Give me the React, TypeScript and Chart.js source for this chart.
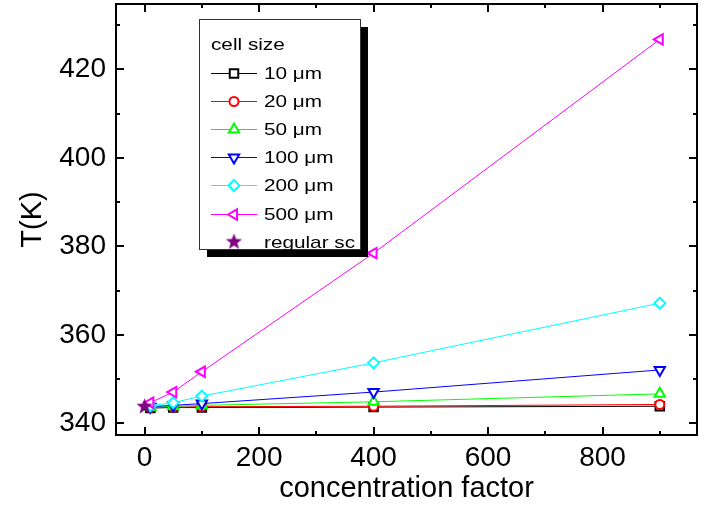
import React, { useEffect, useRef } from 'react';
import { Chart, registerables } from 'chart.js';
import { drawPoint } from 'chart.js/helpers';

Chart.register(...registerables);

// ---- data ----
const concentration = [10, 50, 100, 400, 900];
const t10um = [343.5, 343.6, 343.6, 343.7, 343.9];
const t20um = [343.6, 343.7, 343.8, 343.9, 344.3];
const t50um = [343.7, 343.9, 344.1, 344.9, 346.7];
const t100um = [343.8, 344.1, 344.5, 347.1, 352.1];
const t200um = [344.0, 344.7, 346.2, 353.7, 367.2];
const t500um = [344.7, 347.1, 351.7, 378.5, 426.8];
const regularX = [0];
const regularT = [343.8];

const seriesLabels = ['10 μm', '20 μm', '50 μm', '100 μm', '200 μm', '500 μm', 'regular sc'];
const legendTitle = 'cell size';
const xTitle = 'concentration factor';
const yTitle = 'T(K)';
const xTicks = [0, 200, 400, 600, 800];
const xMinorTicks = [100, 300, 500, 700, 900];
const yTicks = [340, 360, 380, 400, 420];
const yMinorTicks = [350, 370, 390, 410, 430];

const FONT = "'Liberation Sans', Arial, sans-serif";

function makeStar(color: string, outer: number, inner: number): HTMLCanvasElement {
  const size = Math.ceil(outer * 2 + 2);
  const c = document.createElement('canvas');
  c.width = size;
  c.height = size;
  const g = c.getContext('2d')!;
  const cx = size / 2, cy = size / 2;
  g.beginPath();
  for (let i = 0; i < 10; i++) {
    const r = i % 2 === 0 ? outer : inner;
    const a = -Math.PI / 2 + (i * Math.PI) / 5;
    const px = cx + r * Math.cos(a);
    const py = cy + r * Math.sin(a);
    if (i === 0) g.moveTo(px, py);
    else g.lineTo(px, py);
  }
  g.closePath();
  g.fillStyle = color;
  g.fill();
  return c;
}

export default function App() {
  const ref = useRef<HTMLCanvasElement | null>(null);

  useEffect(() => {
    if (!ref.current) return;
    const star = makeStar('#800080', 8.5, 3.6);

    const styles = [
      { color: '#000000', pointStyle: 'rect', rotation: 0, radius: 6 },
      { color: '#ff0000', pointStyle: 'circle', rotation: 0, radius: 4.5 },
      { color: '#00ff00', pointStyle: 'triangle', rotation: 0, radius: 6 },
      { color: '#0000ff', pointStyle: 'triangle', rotation: 180, radius: 6 },
      { color: '#00ffff', pointStyle: 'rectRot', rotation: 0, radius: 5.5 },
      { color: '#ff00ff', pointStyle: 'triangle', rotation: 270, radius: 6 },
    ];
    const seriesValues = [t10um, t20um, t50um, t100um, t200um, t500um];

    const datasets: any[] = seriesValues.map((vals, i) => ({
      label: seriesLabels[i],
      data: concentration.map((c, j) => ({ x: c, y: vals[j] })),
      borderColor: styles[i].color,
      backgroundColor: '#ffffff',
      borderWidth: 1,
      pointStyle: styles[i].pointStyle,
      pointRotation: styles[i].rotation,
      pointRadius: styles[i].radius,
      pointBorderWidth: 2,
      pointBorderColor: styles[i].color,
      pointBackgroundColor: '#ffffff',
      showLine: true,
      order: 10 - i,
    }));
    datasets.push({
      label: seriesLabels[6],
      data: regularX.map((c, j) => ({ x: c, y: regularT[j] })),
      borderColor: '#800080',
      backgroundColor: '#800080',
      pointStyle: star,
      pointRadius: 8,
      showLine: false,
      order: 0,
    });

    const framePlugin = {
      id: 'frameTicksLegend',
      afterDraw(chart: any) {
        const { ctx, chartArea: a, scales } = chart;
        const xs = scales.x, ys = scales.y;
        ctx.save();
        ctx.strokeStyle = '#000';
        ctx.lineWidth = 2;
        ctx.strokeRect(a.left, a.top, a.right - a.left, a.bottom - a.top);
        const seg = (x1: number, y1: number, x2: number, y2: number) => {
          ctx.beginPath();
          ctx.moveTo(x1, y1);
          ctx.lineTo(x2, y2);
          ctx.stroke();
        };
        const drawX = (vals: number[], len: number) => vals.forEach((v) => {
          const px = Math.round(xs.getPixelForValue(v));
          seg(px, a.bottom, px, a.bottom - len);
          seg(px, a.top, px, a.top + len);
        });
        const drawY = (vals: number[], len: number) => vals.forEach((v) => {
          const py = Math.round(ys.getPixelForValue(v));
          seg(a.left, py, a.left + len, py);
          seg(a.right, py, a.right - len, py);
        });
        drawX(xTicks, 8);
        drawX(xMinorTicks, 4);
        drawY(yTicks, 8);
        drawY(yMinorTicks, 4);

        // legend box
        const bx = 199, by = 19, bw = 161, bh = 230;
        ctx.fillStyle = '#000';
        ctx.fillRect(bx + 8, by + 8, bw, bh);
        ctx.fillStyle = '#fff';
        ctx.fillRect(bx, by, bw, bh);
        ctx.lineWidth = 1;
        ctx.strokeStyle = '#333';
        ctx.strokeRect(bx + 0.5, by + 0.5, bw, bh);

        const stretch = 1.22;
        const text = (s: string, x: number, y: number) => {
          ctx.save();
          ctx.translate(x, y);
          ctx.scale(stretch, 1);
          ctx.fillStyle = '#000';
          ctx.font = `17px ${FONT}`;
          ctx.textBaseline = 'middle';
          ctx.textAlign = 'left';
          ctx.fillText(s, 0, 0);
          ctx.restore();
        };
        text(legendTitle, 211, 45);
        const rowY0 = 72.5, rowStep = 28.2;
        for (let i = 0; i < 7; i++) {
          const ry = Math.round(rowY0 + i * rowStep);
          if (i < 6) {
            const st = styles[i];
            ctx.strokeStyle = st.color;
            ctx.lineWidth = 1;
            seg(211, ry + 0.5, 257, ry + 0.5);
            ctx.fillStyle = '#fff';
            ctx.lineWidth = 2;
            drawPoint(ctx, { pointStyle: st.pointStyle, rotation: st.rotation, radius: st.radius, borderWidth: 2 } as any, 234, ry + 0.5);
          } else {
            ctx.drawImage(star, 234 - star.width / 2, ry - star.height / 2);
          }
          text(seriesLabels[i], 264, ry + 1);
        }
        ctx.restore();
      },
    };

    const tickFont = { family: FONT, size: 28 };
    const titleFont = { family: FONT, size: 29 };
    const chart = new Chart(ref.current, {
      type: 'scatter',
      data: { datasets },
      options: {
        animation: false,
        responsive: false,
        devicePixelRatio: 1,
        layout: { autoPadding: false, padding: { left: 0, right: 9, top: 4, bottom: 0 } },
        plugins: { legend: { display: false }, tooltip: { enabled: false } },
        scales: {
          x: {
            type: 'linear',
            min: -50,
            max: 965,
            grid: { display: false, drawTicks: false },
            border: { display: false },
            afterBuildTicks: (s: any) => { s.ticks = xTicks.map((v) => ({ value: v })); },
            afterFit: (s: any) => { s.height = 77; s.paddingLeft = 0; s.paddingRight = 0; },
            ticks: { color: '#000', font: tickFont, padding: 6, maxRotation: 0 },
            title: { display: true, text: xTitle, color: '#000', font: titleFont, padding: { top: 0, bottom: 6 } },
          },
          y: {
            type: 'linear',
            min: 337.4,
            max: 434.8,
            grid: { display: false, drawTicks: false },
            border: { display: false },
            afterBuildTicks: (s: any) => { s.ticks = yTicks.map((v) => ({ value: v })); },
            afterFit: (s: any) => { s.width = 116; s.paddingTop = 0; s.paddingBottom = 0; },
            ticks: { color: '#000', font: tickFont, padding: 10 },
            title: { display: true, text: yTitle, color: '#000', font: titleFont, padding: { top: 16, bottom: 0 } },
          },
        },
      },
      plugins: [framePlugin],
    } as any);
    return () => chart.destroy();
  }, []);

  return (
    <div style={{ position: 'fixed', left: 0, top: 0, width: 706, height: 512, background: '#fff' }}>
      <canvas ref={ref} width={706} height={512} style={{ display: 'block' }} />
    </div>
  );
}
